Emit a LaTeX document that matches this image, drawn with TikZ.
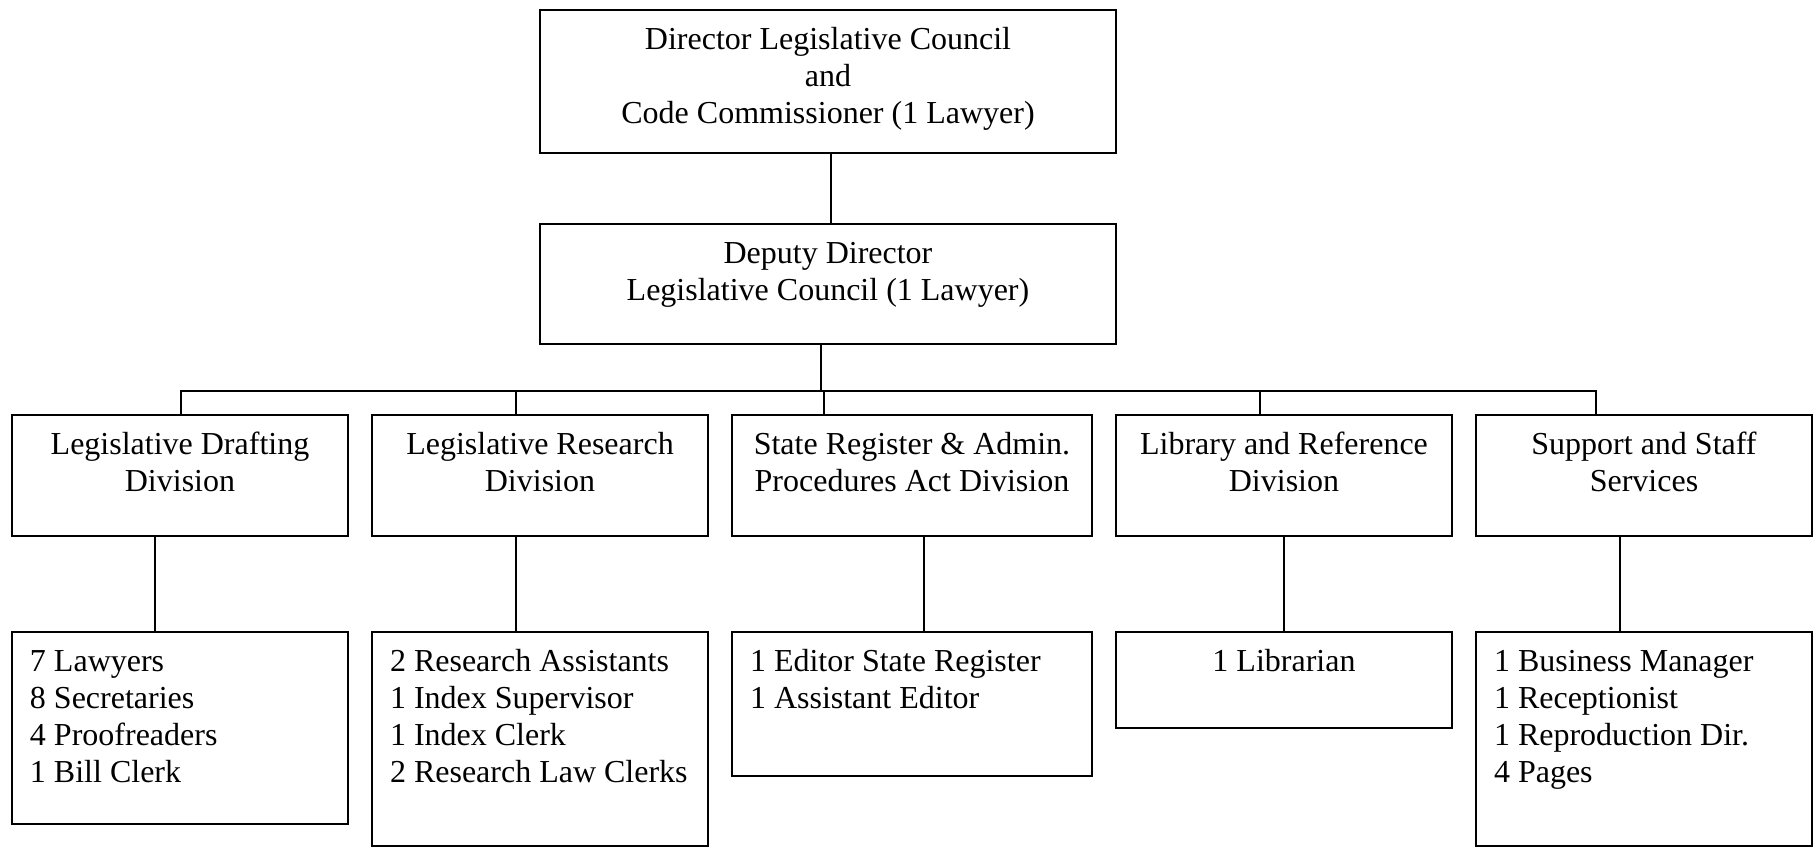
\documentclass[tikz,border=0pt]{standalone}
\usepackage{fontspec}
\setmainfont{Liberation Serif}
\usepackage{tikz}

\begin{document}
\begin{tikzpicture}[x=1pt, y=1pt,
    box/.style = {draw, line width=1pt, anchor=north west,
        inner xsep=9pt, inner ysep=0pt, text height=20pt,
        font=\fontsize{16}{18.5}\selectfont},
    link/.style = {line width=.8pt}]

\useasboundingbox (0,0) rectangle (908.5,423.5);

% Director and deputy
\node [box, align=flush center, text width=270pt, text depth=51.5pt]
    (dir) at (269.5,419)
    {Director Legislative Council\\ and\\ Code Commissioner (1 Lawyer)};
\node [box, align=flush center, text width=270pt, text depth=40pt]
    (dep) at (269.5,312)
    {Deputy Director\\ Legislative Council (1 Lawyer)};

% Divisions
\node [box, align=flush center, text width=150pt, text depth=40.5pt]
    (div1) at (5.5,216.5) {Legislative Drafting\\ Division};
\node [box, align=flush center, text width=150pt, text depth=40.5pt]
    (div2) at (185.5,216.5) {Legislative Research\hspace*{13pt}\\ Division};
\node [box, align=flush center, text width=162pt, text depth=40.5pt]
    (div3) at (365.5,216.5) {State Register \& Admin.\\ Procedures Act Division};
\node [box, align=flush center, text width=150pt, text depth=40.5pt]
    (div4) at (557.5,216.5) {Library and Reference\\ Division};
\node [box, align=flush center, text width=150pt, text depth=40.5pt]
    (div5) at (737.5,216.5) {Support and Staff\\ Services};

% Staff of each division
\node [box, align=flush left, text width=150pt, text depth=76pt]
    (low1) at (5.5,108) {7 Lawyers\\ 8 Secretaries\\ 4 Proofreaders\\ 1 Bill Clerk};
\node [box, align=flush left, text width=150pt, text depth=87pt]
    (low2) at (185.5,108) {2 Research Assistants\\ 1 Index Supervisor\\
    1 Index Clerk\\ 2 Research Law Clerks};
\node [box, align=flush left, text width=162pt, text depth=52pt]
    (low3) at (365.5,108) {1 Editor State Register\\ 1 Assistant Editor};
\node [box, align=flush center, text width=150pt, text depth=28pt]
    (low4) at (557.5,108) {1 Librarian};
\node [box, align=flush left, text width=150pt, text depth=87pt]
    (low5) at (737.5,108) {1 Business Manager\\ 1 Receptionist\\
    1 Reproduction Dir.\\ 4 Pages};

% Connectors
\draw [link] ([xshift=1.5pt]dir.south) -- ([xshift=1.5pt]dep.north);

\coordinate (bus) at (410.5,228);
\draw [link] (dep.south -| bus) -- (bus);

\foreach \n/\up/\down in {1/.5/-12.5, 2/-12/-12, 3/-44/6, 4/-12/0, 5/-24/-12} {
    \path ([xshift=\up pt]div\n.north) coordinate (in\n)
          ([xshift=\down pt]div\n.south) coordinate (out\n);
    \draw [link] (in\n) -- (in\n |- bus);
    \draw [link] (out\n) -- (out\n |- low\n.north);
}
\draw [link] (in1) |- (bus) -| (in5);

\end{tikzpicture}
\end{document}
